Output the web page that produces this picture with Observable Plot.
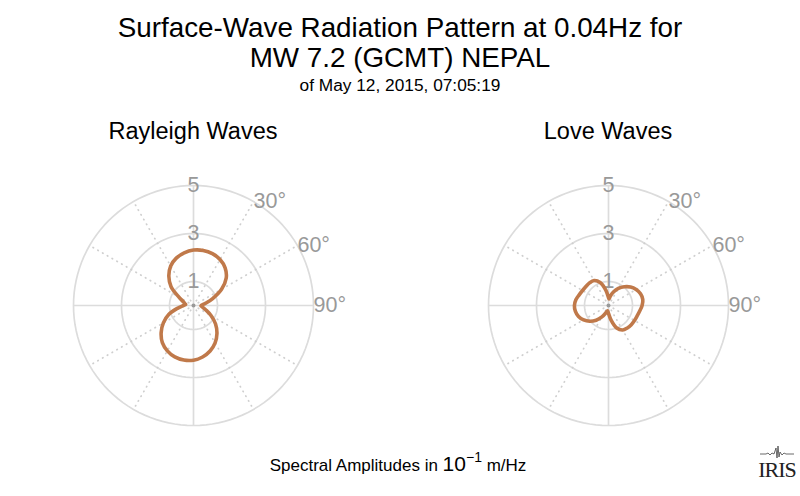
<!DOCTYPE html>
<html>
<head>
<meta charset="utf-8">
<script src="https://cdn.jsdelivr.net/npm/d3@7"></script>
<script src="https://cdn.jsdelivr.net/npm/@observablehq/plot@0.6"></script>
<style>
  body { margin: 0; background: #fff; font-family: "Liberation Sans", Arial, sans-serif; color: #000; }
  #page { position: relative; width: 800px; height: 496px; overflow: hidden; }
  .abs { position: absolute; white-space: nowrap; }
  .panel-title { font-size: 23.5px; line-height: 26px; text-align: center; width: 320px; }
</style>
</head>
<body>
<div id="page">
  <div class="abs" style="left:0;top:13px;width:800px;text-align:center;font-size:27.8px;line-height:30px">Surface-Wave Radiation Pattern at 0.04Hz for<br>MW 7.2 (GCMT) NEPAL</div>
  <div class="abs" style="left:0;top:75px;width:800px;text-align:center;font-size:17.3px;line-height:20px">of May 12, 2015, 07:05:19</div>
  <div class="abs panel-title" style="left:33px;top:118px">Rayleigh Waves</div>
  <div class="abs panel-title" style="left:448px;top:118px">Love Waves</div>
  <div id="rayleigh" class="abs" style="left:33px;top:145px"></div>
  <div id="love" class="abs" style="left:448px;top:145px"></div>
  <div class="abs" style="left:0;top:452px;width:796px;text-align:center;font-size:17px;line-height:24px">Spectral Amplitudes in <span style="font-size:21px">10<sup style="font-size:14px;vertical-align:9px;line-height:0">−1</sup></span> m/Hz</div>
  <div class="abs" style="left:757px;top:445px;width:40px;text-align:center">
    <svg width="40" height="14" style="display:block">
      <polyline points="3,9 9,9 11,8 13,10 15,8 17,9 19,3 20,13 21,1 22,12 23,7 25,10 27,8 29,9 37,9" fill="none" stroke="#444" stroke-width="0.8"/>
    </svg>
    <div style="font-family:'Liberation Serif','DejaVu Serif',serif;font-size:22px;line-height:21px;letter-spacing:-1px;color:#222">IRIS</div>
  </div>
</div>
<script>
// azimuth (deg, clockwise from north) and spectral amplitude (10^-1 m/Hz)
const rayleighAz = [0, 10, 20, 30, 40, 50, 60, 70, 80, 92, 100, 110, 120, 130, 140, 150, 160, 170,
  180, 190, 200, 210, 220, 230, 240, 250, 260, 270, 277, 280, 290, 300, 310, 320, 330, 340, 350];
const rayleighAmp = [2.31, 2.33, 2.30, 2.21, 2.05, 1.78, 1.35, 0.85, 0.50, 0.31, 0.38, 0.55, 0.85, 1.20, 1.52, 1.80, 2.02, 2.18,
  2.28, 2.31, 2.28, 2.18, 2.02, 1.76, 1.45, 1.10, 0.68, 0.42, 0.33, 0.35, 0.45, 0.70, 1.22, 1.60, 1.90, 2.10, 2.23];

const loveAz = [0, 5, 10, 20, 30, 40, 50, 60, 70, 80, 90, 100, 110, 120, 130, 140, 150, 160, 170,
  180, 190, 200, 210, 220, 230, 240, 250, 260, 270, 280, 290, 300, 310, 320, 330, 340, 350];
const loveAmp = [0.33, 0.27, 0.38, 0.60, 0.82, 1.02, 1.20, 1.33, 1.42, 1.45, 1.40, 1.32, 1.27, 1.25, 1.24, 1.22, 1.18, 1.00, 0.62,
  0.33, 0.22, 0.33, 0.55, 0.80, 1.02, 1.20, 1.33, 1.40, 1.42, 1.38, 1.30, 1.25, 1.23, 1.23, 1.20, 1.02, 0.65];

const ringTicks = [1, 3, 5];
const spokeAngles = [0, 30, 60, 90, 120, 150, 180, 210, 240, 270, 300, 330];
const angleLabels = [30, 60, 90];

const rad = Math.PI / 180;
const px = (r, a) => r * Math.sin(a * rad);
const py = (r, a) => r * Math.cos(a * rad);
const gray = "#999999";

function pattern(azimuths, amplitudes) {
  const rows = azimuths.map((a, i) => ({az: a, amp: amplitudes[i]}));
  const rings = ringTicks.flatMap(r => d3.range(0, 361, 3).map(a => ({r, a})));
  const rmax = d3.max(ringTicks);
  return Plot.plot({
    width: 320,
    height: 320,
    margin: 0,
    x: {domain: [-20 / 3, 20 / 3], axis: null},
    y: {domain: [-20 / 3, 20 / 3], axis: null},
    style: {background: "transparent", overflow: "visible", fontFamily: "Liberation Sans, Arial, sans-serif"},
    marks: [
      Plot.line(rings, {x: d => px(d.r, d.a), y: d => py(d.r, d.a), z: "r", stroke: "#dcdcdc", strokeWidth: 1.7}),
      Plot.link(spokeAngles.filter(a => a % 90 !== 0), {
        x1: 0, y1: 0, x2: a => px(rmax, a), y2: a => py(rmax, a),
        stroke: "#cfcfcf", strokeWidth: 1.7, strokeDasharray: "0.5,5", strokeLinecap: "round"
      }),
      Plot.link(spokeAngles.filter(a => a % 90 === 0), {
        x1: 0, y1: 0, x2: a => px(rmax, a), y2: a => py(rmax, a),
        stroke: "#dcdcdc", strokeWidth: 1.7
      }),
      Plot.text(ringTicks, {x: 0, y: d => d, text: d => String(d), fill: gray, fontSize: 21.5}),
      Plot.text(angleLabels, {
        x: a => px(rmax, a), y: a => py(rmax, a), text: a => a + "°",
        textAnchor: "start", fill: gray, fontSize: 21.5
      }),
      Plot.line(rows, {
        x: d => px(d.amp, d.az), y: d => py(d.amp, d.az),
        curve: "catmull-rom-closed", stroke: "#c0794a", strokeWidth: 3.6
      }),
      Plot.dot([0], {x: 0, y: 0, r: 2, fill: gray})
    ]
  });
}

d3.select("#rayleigh").append(() => pattern(rayleighAz, rayleighAmp));
d3.select("#love").append(() => pattern(loveAz, loveAmp));
</script>
</body>
</html>
